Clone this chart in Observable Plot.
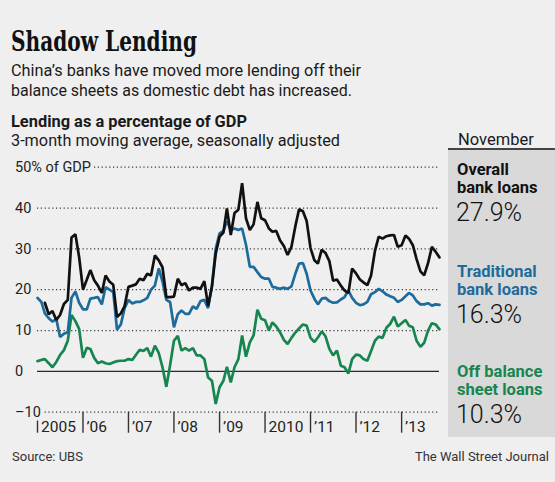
<!DOCTYPE html>
<html><head><meta charset="utf-8">
<script src="https://cdn.jsdelivr.net/npm/d3@7"></script>
<script src="https://cdn.jsdelivr.net/npm/@observablehq/plot@0.6"></script>
<style>
html,body{margin:0;padding:0}
body{width:555px;height:482px;overflow:hidden;position:relative;background:#efefef;font-family:Roboto,sans-serif}
#chart{position:absolute;left:0;top:150px}
.t{position:absolute;white-space:nowrap;line-height:1}
</style></head>
<body>
<div id="chart"></div>
<script>
// ---- data (monthly, Jan 2005 – Nov 2013), % of GDP, 3-month moving average ----
const firstMonth = "2005-01-01";
const lastMonth = "2013-11-01";
const overall = [null, null,
  16.8, 14.0, 14.8, 12.6, 13.8, 16.5, 17.5, 32.8, 33.6, 28.0,
  20.0, 22.5, 24.8, 22.3, 21.0, 19.2, 23.5, 22.0, 21.2, 13.3, 14.2, 16.0,
  20.7, 21.0, 21.3, 22.7, 22.3, 23.9, 23.5, 28.4, 27.2, 25.5, 18.2, 18.2,
  18.3, 22.7, 21.1, 21.6, 19.8, 20.5, 20.5, 20.2, 22.1, 16.0, 20.8, 28.8,
  33.0, 34.0, 39.9, 33.4, 38.8, 39.6, 46.1, 37.5, 34.6, 36.0, 41.5, 37.5,
  37.0, 35.0, 34.2, 34.4, 32.1, 30.7, 28.5, 30.5, 35.5, 39.7, 39.2, 36.8,
  30.2, 27.2, 26.4, 29.8, 29.0, 27.0, 22.2, 22.5, 21.0, 19.8, 19.2, 25.2,
  24.0, 22.5, 21.8, 21.1, 23.5, 29.5, 33.0, 32.5, 33.1, 33.3, 33.4, 30.5,
  30.9, 33.3, 32.5, 30.9, 27.5, 24.5, 23.5, 26.5, 30.5, 29.3, 27.9];
const traditional = [
  18.0, 17.0, 14.2, 13.0, 12.2, 12.8, 8.4, 9.2, 9.6, 18.0, 19.6, 16.8,
  15.2, 15.2, 17.8, 18.0, 18.2, 16.4, 20.6, 20.0, 19.4, 10.2, 11.5, 15.5,
  17.5, 16.6, 17.0, 17.0, 17.4, 18.0, 20.0, 21.0, 25.2, 22.0, 17.5, 17.0,
  10.8, 14.0, 14.9, 14.1, 14.1, 15.9, 15.3, 17.2, 17.5, 15.5, 21.0, 30.0,
  33.8, 34.4, 36.8, 34.6, 35.0, 34.6, 35.0, 31.0, 25.6, 25.6, 24.3, 23.1,
  22.7, 22.7, 20.7, 20.5, 20.2, 20.5, 20.2, 20.8, 23.9, 26.4, 26.5, 23.9,
  19.8, 17.8, 16.4, 17.8, 18.0, 17.2, 16.8, 16.9, 17.6, 18.2, 19.8, 18.0,
  16.8, 16.2, 16.4, 17.0, 18.9, 19.4, 20.2, 19.6, 18.8, 18.4, 18.0, 17.0,
  17.5, 18.4, 19.2, 18.6, 17.2, 16.4, 16.4, 16.7, 16.1, 16.4, 16.3];
const offBalance = [
  2.5, 2.8, 3.0, 2.0, 1.0, 2.3, 4.0, 5.2, 7.5, 13.8, 12.3, 10.4,
  3.3, 5.8, 5.5, 3.3, 2.0, 2.4, 2.0, 1.8, 2.2, 2.5, 2.6, 2.6,
  3.0, 2.8, 4.0, 5.3, 5.0, 5.7, 3.6, 6.3, 4.5, 1.0, -3.8, 1.5,
  7.5, 8.7, 5.1, 5.7, 5.1, 5.7, 3.9, 3.9, 3.0, -1.5, -2.3, -8.0,
  -3.9, -2.3, 1.1, -2.7, 1.0, 3.0, 8.8, 3.6, 7.1, 8.8, 15.1, 12.9,
  12.5, 10.0, 12.0, 11.0, 9.6, 7.7, 6.7, 8.2, 9.5, 10.5, 11.5, 11.2,
  8.2, 7.2, 8.3, 9.8, 8.6, 5.5, 3.9, 5.1, 1.4, 1.0, -0.5, 3.0,
  4.1, 3.9, 3.0, 2.6, 5.0, 7.5, 8.5, 8.2, 10.7, 11.6, 13.4, 11.0,
  11.8, 12.6, 11.2, 10.8, 7.5, 6.0, 7.0, 10.0, 11.8, 11.5, 10.3];
const seriesNames = ["Overall bank loans", "Traditional bank loans", "Off balance sheet loans"];
const latestValues = ["27.9%", "16.3%", "10.3%"];
const latestMonth = "November";
const yTicks = [50, 40, 30, 20, 10, 0, -10];
const yTickLabels = ["50% of GDP", "40", "30", "20", "10", "0", "–10"];
const xTickYears = [2005, 2006, 2007, 2008, 2009, 2010, 2011, 2012, 2013];
const xTickLabels = ["2005", "\u201906", "\u201907", "\u201908", "\u201909", "2010", "\u201911", "\u201912", "\u201913"];

// ---- styles ----
const BG = "#efefef", PANEL = "#d9d9d9";
const C_BLACK = "#111111", C_BLUE = "#1d6b9b", C_GREEN = "#168550";

const months = d3.utcMonth.range(new Date(firstMonth), d3.utcMonth.offset(new Date(lastMonth), 1));
const toRows = arr => arr.map((v, i) => ({date: months[i], value: v}));
const yearDates = xTickYears.map(y => new Date(Date.UTC(y, 0, 1)));

const chart = Plot.plot({
  width: 445, height: 290,
  marginLeft: 37, marginRight: 6, marginTop: 16.7, marginBottom: 28.3,
  style: {background: "transparent", fontFamily: "Roboto, sans-serif", color: "#222", overflow: "visible"},
  x: {type: "utc", domain: [months[0], months[months.length - 1]]},
  y: {domain: [-10, 50]},
  marks: [
    Plot.ruleY(yTicks.filter(v => v !== 0), {stroke: "#3a3a3a", strokeWidth: 1.2, strokeDasharray: "1.2,2.6"}),
    Plot.ruleY([0], {stroke: "#2a2a2a", strokeWidth: 1.4}),
    Plot.line(toRows(offBalance), {x: "date", y: "value", stroke: C_GREEN, strokeWidth: 2.7, strokeLinejoin: "miter"}),
    Plot.line(toRows(traditional), {x: "date", y: "value", stroke: C_BLUE, strokeWidth: 2.7, strokeLinejoin: "miter"}),
    Plot.line(toRows(overall), {x: "date", y: "value", stroke: C_BLACK, strokeWidth: 2.7, strokeLinejoin: "miter"}),
    Plot.axisX({ticks: yearDates, tickSize: 21, tickFormat: () => "", label: null, stroke: "#333", strokeWidth: 1.4}),
    Plot.axisY({ticks: [], label: null}),
    Plot.text(yearDates, {x: d => d, text: (d, i) => xTickLabels[i], frameAnchor: "bottom", textAnchor: "start",
      dx: 3.5, dy: 20, fontSize: 15.5, fill: "#222"}),
    Plot.text(yTicks, {y: d => d, text: (d, i) => yTickLabels[i], frameAnchor: "left", textAnchor: "start",
      dx: -22.5, fontSize: 14.5, fill: "#222", stroke: BG, strokeWidth: 7})
  ]
});
document.getElementById("chart").appendChild(chart);

// ---- text helper: place at baseline ----
function place(text, o) {
  const d = document.createElement("div");
  d.className = "t";
  d.style.fontFamily = o.family || "Roboto, sans-serif";
  d.style.fontSize = o.size + "px";
  d.style.fontWeight = o.weight || 400;
  d.style.color = o.color || "#1a1a1a";
  if (o.stretch) d.style.fontStretch = o.stretch;
  const s = document.createElement("span");
  s.textContent = text;
  const m = document.createElement("span");
  m.style.cssText = "display:inline-block;width:0;height:0;vertical-align:baseline";
  d.appendChild(s); d.appendChild(m);
  document.body.appendChild(d);
  if (o.right != null) d.style.right = o.right + "px"; else d.style.left = o.x + "px";
  d.style.top = (o.baseline - m.offsetTop) + "px";
  if (o.width) {
    const w = s.getBoundingClientRect().width;
    const k = o.width / w;
    d.style.transformOrigin = o.right != null ? "right center" : "left center";
    d.style.transform = `scaleX(${k})`;
  }
  return d;
}

// header
place("Shadow Lending", {x: 11, baseline: 51, size: 27, weight: 700, family: "'DejaVu Serif Condensed','DejaVu Serif',serif", stretch: "condensed", width: 186, color: "#111"});
place("China’s banks have moved more lending off their", {x: 11, baseline: 76, size: 16.5, width: 350});
place("balance sheets as domestic debt has increased.", {x: 11, baseline: 96, size: 16.5, width: 341});
place("Lending as a percentage of GDP", {x: 11, baseline: 127, size: 16, weight: 700, width: 236});
place("3-month moving average, seasonally adjusted", {x: 11, baseline: 146, size: 16.5, width: 329});

// right panel
const panel = document.createElement("div");
panel.style.cssText = `position:absolute;left:448px;top:150px;width:107px;height:287px;background:${PANEL}`;
document.body.appendChild(panel);
const rule = document.createElement("div");
rule.style.cssText = "position:absolute;left:448px;top:148px;width:107px;height:2px;background:#444";
document.body.appendChild(rule);
place(latestMonth, {x: 458, baseline: 145, size: 16.5});

const panelColors = [C_BLACK, C_BLUE, C_GREEN];
const panelLines = [["Overall", "bank loans"], ["Traditional", "bank loans"], ["Off balance", "sheet loans"]];
const panelBase = [175, 277, 377];
panelLines.forEach((lines, i) => {
  const b = panelBase[i];
  place(lines[0], {x: 457, baseline: b, size: 16.5, weight: 700, color: panelColors[i]});
  place(lines[1], {x: 457, baseline: b + 17.5, size: 16.5, weight: 700, color: panelColors[i]});
  place(latestValues[i], {x: 456, baseline: b + 45.5, size: 25, weight: 300, color: "#111"});
});

// footer
place("Source: UBS", {x: 12, baseline: 461, size: 13, color: "#333"});
place("The Wall Street Journal", {right: 6, baseline: 461, size: 13, color: "#333"});
</script>
</body></html>
